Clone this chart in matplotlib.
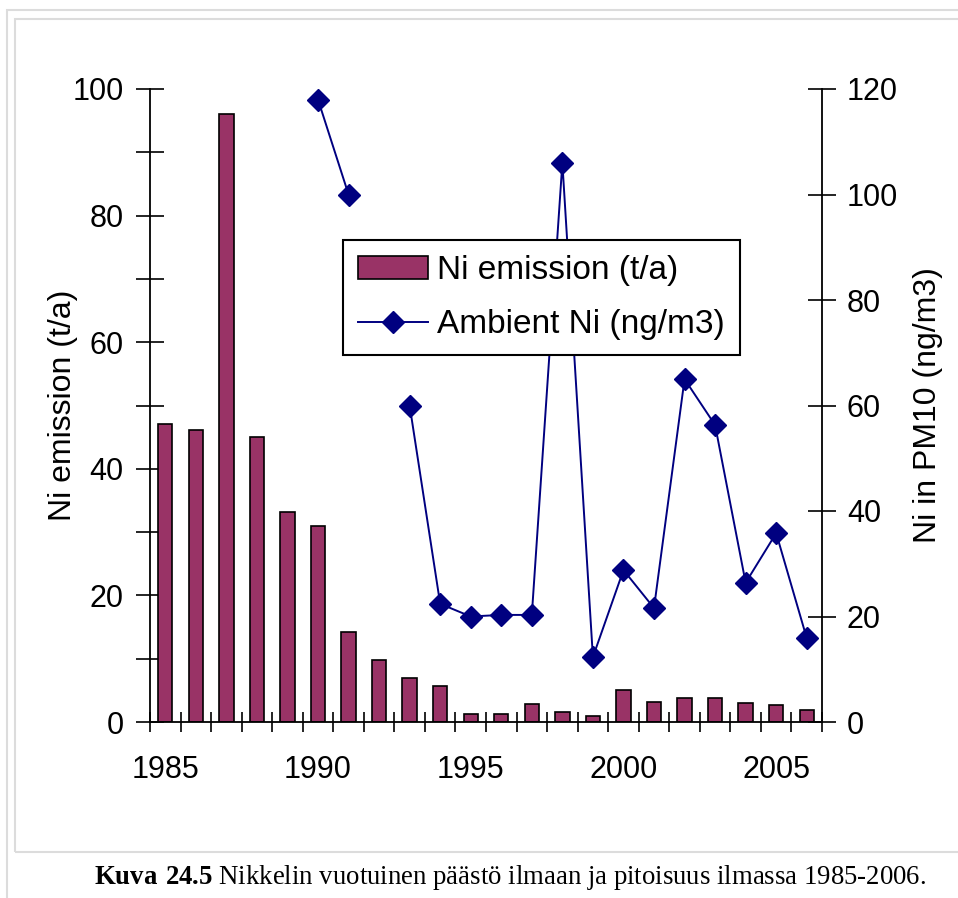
import numpy as np
import matplotlib
matplotlib.use('Agg')
import matplotlib.pyplot as plt
from matplotlib.patches import Rectangle
from matplotlib.lines import Line2D

plt.rcParams['font.family'] = ['Liberation Sans', 'DejaVu Sans']
plt.rcParams['mathtext.fontset'] = 'custom'
plt.rcParams['mathtext.bf'] = 'Liberation Serif:bold'
plt.rcParams['mathtext.rm'] = 'Liberation Serif'

# data
years = list(range(1985, 2007))
emission = [47, 46.2, 96, 45, 33.2, 31, 14.2, 9.8, 7, 5.7, 1.3, 1.3, 2.8,
            1.6, 0.9, 5, 3.2, 3.8, 3.8, 3, 2.7, 1.9]
nan = np.nan
ambient = [nan, nan, nan, nan, nan, 118, 100, nan, 60, 22.4, 20, 20.3, 20.3,
           106, 12.3, 28.8, 21.6, 65, 56.3, 26.4, 35.8, 15.9]
year_labels = [1985, 1990, 1995, 2000, 2005]

bar_color = '#993366'
line_color = '#000080'
W, H = 958, 898

fig = plt.figure(figsize=(W / 100, H / 100), dpi=100)

# light grey frames around the chart
fig.patches.append(Rectangle((7 / W, -0.02), 1.0, (898 - 10) / H + 0.02,
                             transform=fig.transFigure, fill=False,
                             edgecolor='#dcdcdc', lw=1.5))
fig.patches.append(Rectangle((15 / W, 1 - 852 / H), 1.0, (852 - 19) / H,
                             transform=fig.transFigure, fill=False,
                             edgecolor='#dcdcdc', lw=1.5))

ax = fig.add_axes([150 / W, 1 - 722 / H, (822 - 150) / W, (722 - 89) / H])
x = np.arange(len(years))
ax.bar(x, emission, width=0.47, color=bar_color, edgecolor='black',
       linewidth=1.2, zorder=2)
ax.set_xlim(-0.5, len(years) - 0.5)
ax.set_ylim(0, 100)
ax.set_yticks(range(0, 101, 20))
ax.set_yticks(range(10, 100, 20), minor=True)
ax.tick_params(axis='y', which='both', direction='inout', length=20,
               width=1.2, labelsize=22, pad=9)

ax.set_xticks(np.arange(-0.5, len(years), 1))
ax.set_xticklabels([])
ax.set_xticks([years.index(y) for y in year_labels], minor=True)
ax.set_xticklabels([str(y) for y in year_labels], minor=True)
ax.tick_params(axis='x', which='major', direction='inout', length=14, width=1.2)
ax.tick_params(axis='x', which='minor', length=0, labelsize=22, pad=24)

for s in ['top', 'right']:
    ax.spines[s].set_visible(False)
for s in ['left', 'bottom']:
    ax.spines[s].set_linewidth(1.3)

ax.set_ylabel('Ni emission (t/a)', fontsize=23)
ax.yaxis.set_label_coords(-0.13, 0.5)
ax.yaxis.label.set_verticalalignment('center')

ax2 = ax.twinx()
ax2.plot(x, ambient, color=line_color, lw=1.4, marker='D', markersize=11,
         markeredgecolor=line_color, markerfacecolor=line_color)
ax2.set_ylim(0, 120)
ax2.set_yticks(range(0, 121, 20))
ax2.tick_params(axis='y', direction='inout', length=20, width=1.2,
                labelsize=22, pad=8)
for s in ['top', 'left', 'bottom']:
    ax2.spines[s].set_visible(False)
ax2.spines['right'].set_linewidth(1.3)
ax2.set_ylabel('Ni in PM10 (ng/m3)', fontsize=23)
ax2.yaxis.set_label_coords(1.158, 0.5)
ax2.yaxis.label.set_verticalalignment('center')

handles = [Rectangle((0, 0), 1, 1, facecolor=bar_color, edgecolor='black', lw=1.2),
           Line2D([], [], color=line_color, lw=1.4, marker='D', markersize=11)]
leg = fig.legend(handles, ['Ni emission (t/a)', 'Ambient Ni (ng/m3)'],
                 loc='upper left', bbox_to_anchor=(343 / W, 1 - 240 / H),
                 fontsize=24, frameon=True, fancybox=False, framealpha=1,
                 edgecolor='black', handlelength=2.1, handletextpad=0.27,
                 labelspacing=0.7, borderpad=0.45, borderaxespad=0,
                 numpoints=1)
leg.get_frame().set_linewidth(1.5)

fig.text(510 / W, 1 - 877 / H,
         r'$\mathbf{Kuva\ 24.5}$ Nikkelin vuotuinen päästö ilmaan ja pitoisuus ilmassa 1985-2006.',
         family='Liberation Serif', fontsize=19.3, ha='center', va='center')

fig.savefig('out.png', dpi=100)
